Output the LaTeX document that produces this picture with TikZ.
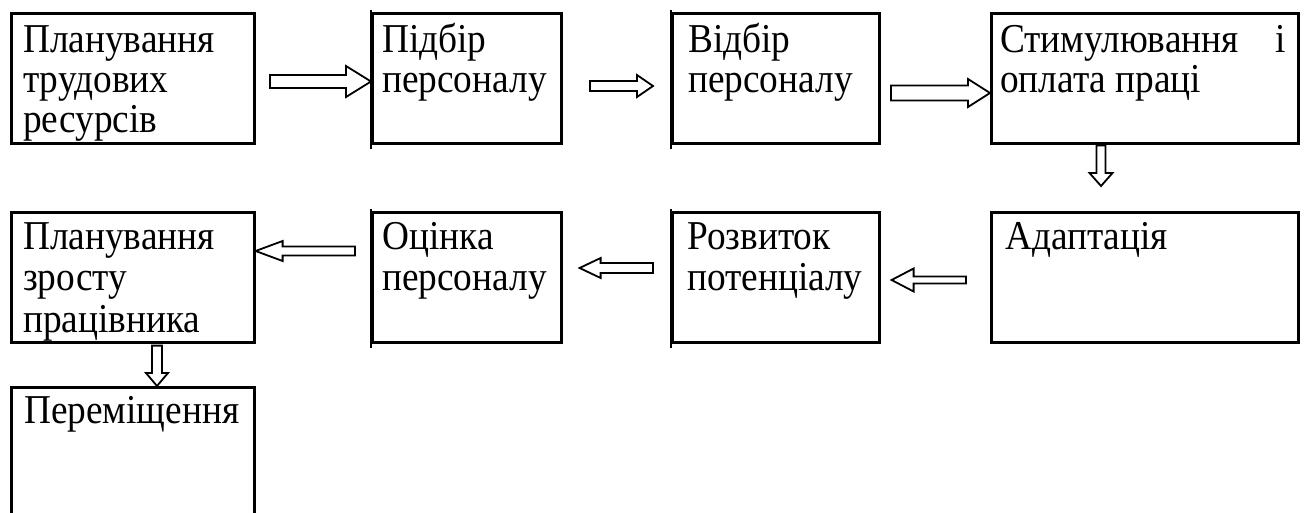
\documentclass[tikz,border=0pt]{standalone}
\usepackage{fontspec}
\setmainfont[FakeStretch=0.91]{Liberation Serif}
\usetikzlibrary{calc}

% text block placed by the baseline of its first line
\newcommand\stagetext[3][40pt]{\parbox[t]{#2}{\fontsize{41pt}{#1}\selectfont\raggedright #3}}

\tikzset{
  x=1pt, y=-1pt,
  stagebox/.style={draw, line width=2.6pt, inner sep=0pt, anchor=north west},
  stagelabel/.style={inner sep=0pt, anchor=base west},
  edgetick/.style={line width=2.6pt},
  arrw/.store in=\arrw, arrW/.store in=\arrW, arrh/.store in=\arrh,
  arrw=5pt, arrW=11pt, arrh=16pt,
  % outlined block arrow from the start point to the tip
  blockarrow/.style={draw, line width=1.8pt, fill=white, line join=miter,
    to path={
      ($(\tikztostart)!\arrw!90:(\tikztotarget)$)
      -- ($(\tikztotarget)!\arrh!(\tikztostart)!\arrw!-90:(\tikztostart)$)
      -- ($(\tikztotarget)!\arrh!(\tikztostart)!\arrW!-90:(\tikztostart)$)
      -- (\tikztotarget)
      -- ($(\tikztotarget)!\arrh!(\tikztostart)!\arrW!90:(\tikztostart)$)
      -- ($(\tikztotarget)!\arrh!(\tikztostart)!\arrw!90:(\tikztostart)$)
      -- ($(\tikztostart)!\arrw!-90:(\tikztotarget)$)
      -- cycle
    }}
}

\begin{document}
\begin{tikzpicture}
\clip (0,0) rectangle (1306,513);
\fill[white] (0,0) rectangle (1306,513);

% first row
\node[stagebox, minimum width=243pt, minimum height=130pt] (plan) at (10,12) {};
\node[stagebox, minimum width=189pt, minimum height=130pt] (pidbir) at (371,12) {};
\node[stagebox, minimum width=207pt, minimum height=130pt] (vidbir) at (671,12) {};
\node[stagebox, minimum width=307pt, minimum height=130pt] (stym) at (990,12) {};

% second row
\node[stagebox, minimum width=307pt, minimum height=130pt] (adapt) at (990,211) {};
\node[stagebox, minimum width=207pt, minimum height=130pt] (rozv) at (671,211) {};
\node[stagebox, minimum width=189pt, minimum height=130pt] (otsin) at (371,211) {};
\node[stagebox, minimum width=243pt, minimum height=130pt] (zrost) at (10,211) {};

% third row, running off the lower edge
\node[stagebox, minimum width=243pt, minimum height=160pt] (perem) at (10,386) {};

% left edges that overshoot the corners
\foreach \b in {pidbir, vidbir, otsin, rozv}
  \draw[edgetick] ($(\b.north west)+(0,-2)$) -- ($(\b.south west)+(0,4)$);

% labels
\node[stagelabel] (tplan) at ($(plan.north west)+(13,41)$) {\stagetext{228pt}{Планування\\трудових\\ресурсів}};
\node[stagelabel] (tpidbir) at ($(pidbir.north west)+(11,41)$) {\stagetext{176pt}{Підбір\\персоналу}};
\node[stagelabel] (tvidbir) at ($(vidbir.north west)+(17,41)$) {\stagetext{188pt}{Відбір\\персоналу}};
\node[stagelabel] (tstym) at ($(stym.north west)+(10,41)$) {\stagetext{286pt}{Стимулювання\hfill і\\оплата праці}};
\node[stagelabel] (tadapt) at ($(adapt.north west)+(15,38)$) {\stagetext{288pt}{Адаптація}};
\node[stagelabel] (trozv) at ($(rozv.north west)+(16,38)$) {\stagetext[41.5pt]{188pt}{Розвиток\\потенціалу}};
\node[stagelabel] (totsin) at ($(otsin.north west)+(11,38)$) {\stagetext[41.5pt]{176pt}{Оцінка\\персоналу}};
\node[stagelabel] (tzrost) at ($(zrost.north west)+(13,38)$) {\stagetext[41.5pt]{228pt}{Планування\\зросту\\працівника}};
\node[stagelabel] (tperem) at ($(perem.north west)+(14,37)$) {\stagetext{228pt}{Переміщення}};

% arrow tails
\coordinate (s1) at (270,81.5);
\coordinate (s2) at (590,86);
\coordinate (s3) at (891,93);
\coordinate (s4) at ($(stym.south west)+(111,1)$);
\coordinate (s5) at (966,280);
\coordinate (s6) at (653,268);
\coordinate (s7) at (355,251);
\coordinate (s8) at ($(zrost.south west)+(147,2)$);

% arrow tips
\coordinate (e1) at (pidbir.west |- s1);
\coordinate (e2) at ($(vidbir.west |- s2)+(-18,0)$);
\coordinate (e3) at (stym.west |- s3);
\coordinate (e4) at ($(s4 |- adapt.north)+(0,-25)$);
\coordinate (e5) at ($(rozv.east |- s5)+(11,0)$);
\coordinate (e6) at ($(otsin.east |- s6)+(17,0)$);
\coordinate (e7) at (zrost.east |- s7);
\coordinate (e8) at (s8 |- perem.north);

\draw[blockarrow, arrw=6.5pt, arrW=15.5pt, arrh=25pt] (s1) to (e1);
\draw[blockarrow, arrw=5pt, arrW=11pt, arrh=16pt] (s2) to (e2);
\draw[blockarrow, arrw=7.5pt, arrW=14pt, arrh=22pt] (s3) to (e3);
\draw[blockarrow, arrw=4.5pt, arrW=11.5pt, arrh=13pt] (s4) to (e4);
\draw[blockarrow, arrw=3.5pt, arrW=11.5pt, arrh=22pt] (s5) to (e5);
\draw[blockarrow, arrw=5pt, arrW=10pt, arrh=21pt] (s6) to (e6);
\draw[blockarrow, arrw=4.5pt, arrW=10pt, arrh=27pt] (s7) to (e7);
\draw[blockarrow, arrw=5pt, arrW=11pt, arrh=13pt] (s8) to (e8);
\end{tikzpicture}
\end{document}
